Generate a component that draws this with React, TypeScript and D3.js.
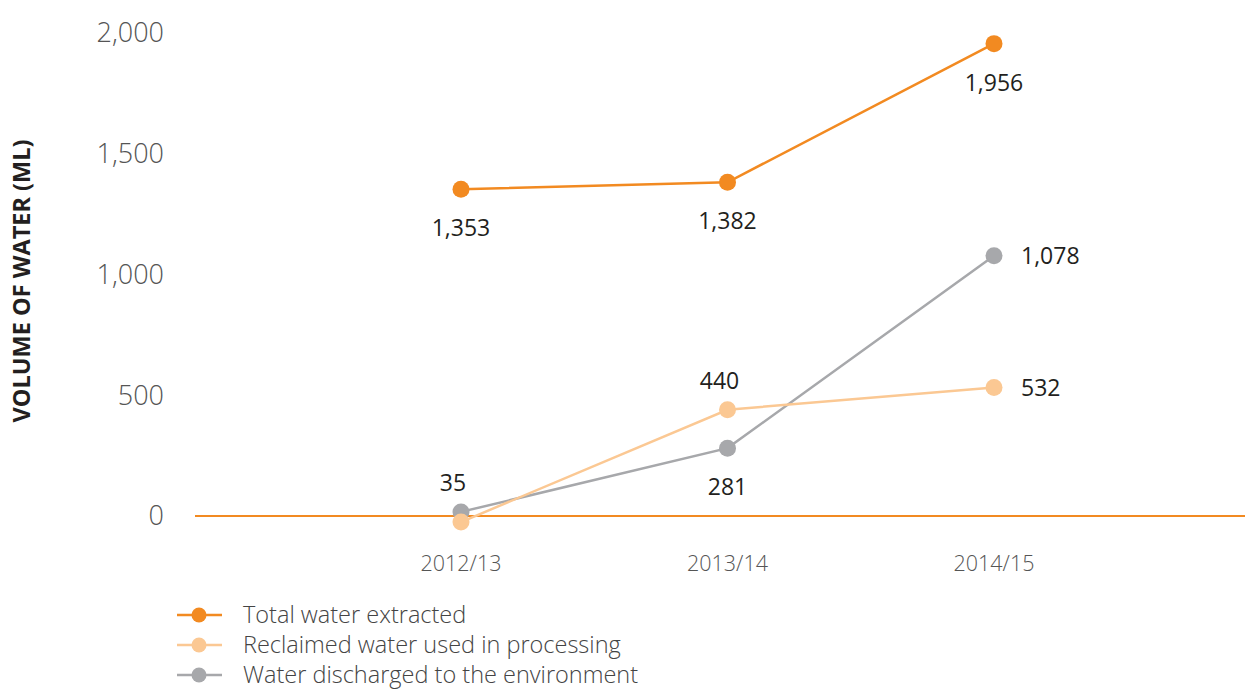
import { useEffect, useRef } from "react";
import * as d3 from "d3";

// chart values
const years = ["2012/13", "2013/14", "2014/15"];
const totalExtracted = [1353, 1382, 1956];
const reclaimed = [-25, 440, 532];
const discharged = [17, 281, 1078];
const yTicks = [0, 500, 1000, 1500, 2000];

const seriesNames = [
  "Total water extracted",
  "Reclaimed water used in processing",
  "Water discharged to the environment",
];
const seriesColors = ["#f28a21", "#fbc893", "#a7a8ab"];

// printed labels (text only) and where they sit relative to the dot
const totalLabels = ["1,353", "1,382", "1,956"];
const reclaimedLabels = [null, "440", "532"];
const dischargedLabels = ["35", "281", "1,078"];
const totalPlace = ["below", "below", "below"];
const reclaimedPlace = [null, "above", "right"];
const dischargedPlace = ["above", "below", "right"];

export default function App() {
  const svgRef = useRef<SVGSVGElement | null>(null);

  const width = 1245;
  const height = 689;

  const x = d3.scalePoint<string>().domain(years).range([461, 994]);
  const y = d3.scaleLinear().domain([0, 2000]).range([516, 33]);

  useEffect(() => {
    const svg = d3.select(svgRef.current);
    svg.selectAll("*").remove();

    const font = "'Open Sans', Lato, sans-serif";

    // y tick labels
    svg.append("g")
      .selectAll("text")
      .data(yTicks)
      .join("text")
        .attr("x", 164)
        .attr("y", d => y(d))
        .attr("dy", "0.35em")
        .attr("text-anchor", "end")
        .attr("font-family", font)
        .attr("font-weight", 300)
        .attr("font-size", 27)
        .attr("fill", "#555")
        .text(d => d3.format(",")(d));

    // axis title
    svg.append("text")
      .attr("transform", "translate(30, 281) rotate(-90)")
      .attr("text-anchor", "middle")
      .attr("font-family", font)
      .attr("font-weight", 700)
      .attr("font-size", 23.5)
      .attr("fill", "#231f20")
      .text("VOLUME OF WATER (ML)");

    // x labels
    svg.append("g")
      .selectAll("text")
      .data(years)
      .join("text")
        .attr("x", d => x(d)!)
        .attr("y", 571)
        .attr("text-anchor", "middle")
        .attr("font-family", font)
        .attr("font-weight", 300)
        .attr("font-size", 21.5)
        .attr("fill", "#555")
        .text(d => d);

    // zero line
    svg.append("line")
      .attr("x1", 195)
      .attr("x2", 1245)
      .attr("y1", y(0))
      .attr("y2", y(0))
      .attr("stroke", seriesColors[0])
      .attr("stroke-width", 2);

    const line = d3.line<number>()
      .x((_, i) => x(years[i])!)
      .y(d => y(d));

    const series = [
      { values: discharged, color: seriesColors[2], labels: dischargedLabels, place: dischargedPlace },
      { values: reclaimed, color: seriesColors[1], labels: reclaimedLabels, place: reclaimedPlace },
      { values: totalExtracted, color: seriesColors[0], labels: totalLabels, place: totalPlace },
    ];

    series.forEach(s => {
      const g = svg.append("g");
      g.append("path")
        .attr("d", line(s.values))
        .attr("fill", "none")
        .attr("stroke", s.color)
        .attr("stroke-width", 2.5);
      g.selectAll("circle")
        .data(s.values)
        .join("circle")
          .attr("cx", (_, i) => x(years[i])!)
          .attr("cy", d => y(d))
          .attr("r", 8.5)
          .attr("fill", s.color);
    });

    // value labels
    series.forEach(s => {
      s.values.forEach((v, i) => {
        const txt = s.labels[i];
        if (!txt) return;
        const px = x(years[i])!;
        const py = y(v);
        const p = s.place[i];
        let tx = px, ty = py, anchor = "middle";
        if (p === "below") { ty = py + 47; }
        if (p === "above") { tx = px - 8; ty = py - 21; }
        if (p === "right") { tx = px + 27; ty = py + 8; anchor = "start"; }
        svg.append("text")
          .attr("x", tx)
          .attr("y", ty)
          .attr("text-anchor", anchor)
          .attr("font-family", font)
          .attr("font-size", 23)
          .attr("fill", "#231f20")
          .text(txt);
      });
    });

    // legend
    const legend = svg.append("g")
      .selectAll("g")
      .data(seriesNames)
      .join("g")
        .attr("transform", (_, i) => `translate(177, ${615 + i * 30})`);
    legend.append("line")
      .attr("x1", 0)
      .attr("x2", 45)
      .attr("stroke", (_, i) => seriesColors[i])
      .attr("stroke-width", 2.5);
    legend.append("circle")
      .attr("cx", 22)
      .attr("r", 7.5)
      .attr("fill", (_, i) => seriesColors[i]);
    legend.append("text")
      .attr("x", 66)
      .attr("dy", "0.35em")
      .attr("font-family", font)
      .attr("font-weight", 300)
      .attr("font-size", 23.5)
      .attr("fill", "#444")
      .text(d => d);

    return () => { svg.selectAll("*").remove(); };
  }, []);

  return (
    <svg
      ref={svgRef}
      width={width}
      height={height}
      style={{ position: "absolute", left: 0, top: 0, background: "#fff" }}
    />
  );
}
